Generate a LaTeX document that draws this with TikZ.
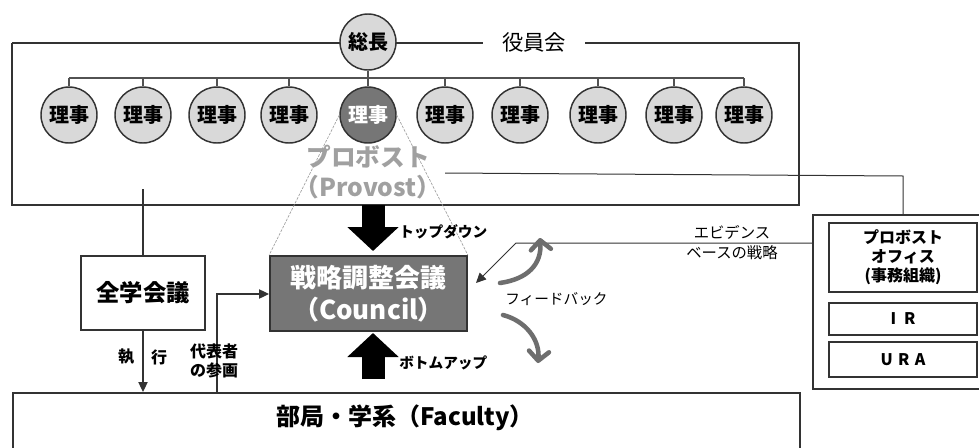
\documentclass[tikz,border=0pt]{standalone}
\usepackage{fontspec}
\setmainfont{Noto Sans CJK JP}
\usetikzlibrary{arrows.meta}
\definecolor{lg}{HTML}{D9D9D9}
\definecolor{dg}{HTML}{767676}
\definecolor{pv}{HTML}{A0A0A0}
\definecolor{ln}{HTML}{333333}
\definecolor{fb}{HTML}{6E6E6E}
\newcommand{\fsz}[2]{\fontsize{#1}{#2}\selectfont}
\tikzset{
  frame/.style={draw=ln,line width=1.5pt},
  circ/.style={circle,draw=ln,line width=1.1pt,fill=lg,minimum size=42pt,inner sep=0pt,font=\fsz{15pt}{15pt}\bfseries},
  tree/.style={draw=ln!85,line width=0.8pt},
  conn/.style={draw=ln,line width=0.8pt},
  tipA/.style={-{Triangle[length=7.5pt,width=7pt]}},
  dotline/.style={draw=pv,line width=0.5pt,dash pattern=on 2pt off 1pt},
  blockarrow/.style={draw=black,line width=17.25pt,-{Triangle[length=18pt,width=37.5pt]}},
  fbarrow/.style={draw=fb,line width=3.4pt,line cap=round,-{Straight Barb[length=7pt,width=15pt,line cap=round,line join=round]}},
  lbl/.style={font=\fsz{11pt}{12pt}\bfseries,inner sep=0pt},
  boxw/.style={draw=ln,line width=1.5pt,fill=white,inner sep=0pt}
}
\begin{document}
\begin{tikzpicture}[x=0.75pt,y=-0.75pt]
\clip (0,0) rectangle (979,447);
\fill[white] (0,0) rectangle (979,447);
% board frame
\draw[frame] (12,43) -- (483,43);
\draw[frame] (585,43) -- (799,43) -- (799,205) -- (12,205) -- (12,43);
\node[inner sep=0pt,font=\fsz{16pt}{16pt}] (boardlbl) at (534,42) {役員会};
% president
\node[circ] (pres) at (368,42) {総長};
% directors
\foreach \i/\xx in {1/69,2/143,3/217,4/289,6/445,7/520,8/598,9/674,10/744}{
  \node[circ] (d\i) at (\xx,115) {理事};
}
\node[circ,fill=dg,text=white] (d5) at (368,115) {理事};
\coordinate (busL) at (69,78);
\coordinate (busR) at (744,78);
\draw[tree] (busL) -- (busR);
\draw[tree] (pres.south) -- (pres.south |- busL);
\foreach \i in {1,2,3,4,5,6,7,8,9,10}{
  \draw[tree] (d\i.north) -- (d\i.north |- busL);
}
% council
\node[draw=ln,line width=1.2pt,fill=dg,text=white,minimum width=148pt,minimum height=56.25pt,inner sep=0pt,align=center,font=\fsz{19.5pt}{24pt}\bfseries] (council) at (368.5,293.5) {戦略調整会議\\（Council）};
% provost
\draw[dotline] (d5.west) -- (council.north west);
\draw[dotline] (d5.east) -- (council.north east);
\node[text=pv,align=center,inner sep=0pt,font=\fsz{18.5pt}{22pt}\bfseries] (prov) at (368,172) {プロボスト\\（Provost）};
% block arrows
\coordinate (tdA) at (373,205);
\coordinate (tdB) at (373,251);
\draw[blockarrow] (tdA) -- (tdB);
\node[lbl,anchor=west] (tdlbl) at (399,232) {トップダウン};
\coordinate (buA) at (373,379);
\coordinate (buB) at (373,333);
\draw[blockarrow] (buA) -- (buB);
\node[lbl,anchor=west] (bulbl) at (399,363) {ボトムアップ};
% zengaku
\node[boxw,minimum width=93pt,minimum height=55.5pt,font=\fsz{17.5pt}{17.5pt}\bfseries] (zen) at (143,293) {全学会議};
\coordinate (zentop) at (143,189);
\draw[conn] (zentop) -- (zen.north);
% faculty
\node[boxw,minimum width=590.25pt,minimum height=75pt,anchor=north west] (fac) at (12,392) {};
\node[inner sep=0pt,font=\fsz{18pt}{18pt}\bfseries] (faclbl) at (405,418) {部局・学系（Faculty）};
\coordinate (facA) at (143,392);
\draw[conn,tipA] (zen.south) -- (facA);
\node[lbl,font=\fsz{12pt}{12pt}\bfseries] (exe1) at (126,357) {執};
\node[lbl,font=\fsz{12pt}{12pt}\bfseries] (exe2) at (159,357) {行};
\coordinate (facB) at (217,392);
\coordinate (repC) at (217,294);
\draw[conn,tipA] (facB) -- (repC) -- (council.west |- repC);
\node[lbl,align=center,font=\fsz{12pt}{14pt}\bfseries] (rep) at (214,361) {代表者\\の参画};
% provost office
\node[boxw,minimum width=138pt,minimum height=130.5pt,anchor=north west] (office) at (812,214) {};
\node[boxw,minimum width=111pt,minimum height=51.75pt,align=center,font=\fsz{12pt}{14.25pt}\bfseries] (po) at (903,257.5) {プロボスト\\オフィス\\(事務組織)};
\node[boxw,minimum width=111pt,minimum height=24pt,font=\fsz{12pt}{12pt}\bfseries] (ir) at (903,319) {I\hspace{6pt}R};
\node[boxw,minimum width=111pt,minimum height=26.25pt,font=\fsz{12pt}{12pt}\bfseries] (ura) at (903,359.5) {U\hspace{4pt}R\hspace{4pt}A};
% provost link
\coordinate (pvA) at (445,173);
\coordinate (pvB) at (903,176);
\draw[conn,line width=0.75pt] (pvA) -- (pvB) -- (pvB |- office.north);
% evidence
\coordinate (evA) at (516,243);
\coordinate (evB) at (476,283);
\draw[conn,line width=0.75pt,tipA] (office.west |- evA) -- (evA) -- (evB);
\node[align=center,inner sep=0pt,font=\fsz{11.5pt}{15pt}] (evlbl) at (732,243) {エビデンス\\ベースの戦略};
% feedback
\coordinate (fbA) at (500,283);
\coordinate (fbB) at (540,238);
\coordinate (fbC) at (503,315);
\coordinate (fbD) at (538,363);
\draw[fbarrow] (fbA) .. controls (528,279) and (542,264) .. (fbB);
\draw[fbarrow] (fbC) .. controls (526,321) and (540,340) .. (fbD);
\node[inner sep=0pt,font=\fsz{11pt}{12pt},anchor=west] (fblbl) at (505,299) {フィードバック};
\end{tikzpicture}
\end{document}
